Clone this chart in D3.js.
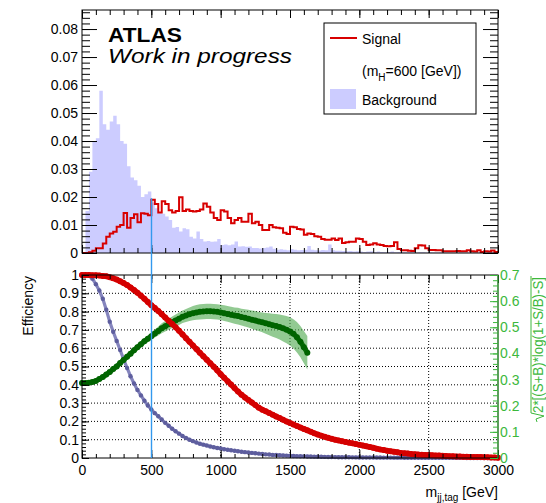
<!DOCTYPE html>
<html><head><meta charset="utf-8">
<script src="https://cdn.jsdelivr.net/npm/d3@7"></script>
<style>
body{margin:0;background:#fff}
svg{display:block}
text{font-family:"Liberation Sans",Arial,Helvetica,sans-serif}
</style>
</head><body>
<svg id="c" width="546" height="503"></svg>
<script>
// ---------------- data ----------------
const binWidth = 25; // GeV
const signalHist = [
 0, 0, 0.0003, 0.0008, 0.0017, 0.0017, 0.0034, 0.0058, 0.0070, 0.0076,
 0.0094, 0.0100, 0.0143, 0.0090, 0.0125, 0.0138, 0.0110, 0.0142, 0.0140, 0.0135,
 0.0190, 0.0175, 0.0145, 0.0185, 0.0175, 0.0153, 0.0145, 0.0150, 0.0199, 0.0150,
 0.0155, 0.0150, 0.0148, 0.0150, 0.0155, 0.0177, 0.0165, 0.0145, 0.0125, 0.0118,
 0.0153, 0.0148, 0.0125, 0.0106, 0.0118, 0.0125, 0.0112, 0.0112, 0.0140, 0.0106,
 0.0112, 0.0100, 0.0082, 0.0082, 0.0100, 0.0092, 0.0090, 0.0088, 0.0072, 0.0068,
 0.0094, 0.0092, 0.0086, 0.0084, 0.0065, 0.0070, 0.0068, 0.0060, 0.0058, 0.0050,
 0.0047, 0.0047, 0.0052, 0.0046, 0.0052, 0.0036, 0.0038, 0.0040, 0.0040, 0.0052,
 0.0050, 0.0040, 0.0029, 0.0030, 0.0035, 0.0030, 0.0029, 0.0025, 0.0024, 0.0025,
 0.0038, 0.0014, 0.0010, 0.0010, 0.0008, 0.0007, 0.0017, 0.0028, 0.0027, 0.0017,
 0.0011, 0.0011, 0.0010, 0.0010, 0.0006, 0.0006, 0.0006, 0.0006, 0.0007, 0.0006,
 0.0006, 0.0010, 0.0006, 0.0005, 0.0010, 0.0004, 0.0006, 0.0005, 0.0009, 0.0004
];
const backgroundHist = [
 0, 0.015, 0.029, 0.040, 0.041, 0.058, 0.046, 0.044, 0.047, 0.049,
 0.046, 0.040, 0.039, 0.031, 0.027, 0.026, 0.024, 0.020, 0.021, 0.022,
 0.018, 0.016, 0.0145, 0.014, 0.013, 0.0118, 0.009, 0.0093, 0.0077, 0.0088,
 0.0085, 0.0058, 0.0052, 0.0077, 0.005, 0.0041, 0.0043, 0.004, 0.0041, 0.005,
 0.0029, 0.003, 0.0028, 0.003, 0.0041, 0.0023, 0.0024, 0.0022, 0.0023, 0.0018,
 0.0018, 0.0016, 0.0018, 0.002, 0.0023, 0.0015, 0.0012, 0.0013, 0.0012, 0.001,
 0.0014, 0.0012, 0.001, 0.0011, 0.0012, 0.0025, 0.0012, 0.001, 0.0009, 0.0011,
 0.001, 0.003, 0.001, 0.0008, 0.0008, 0.0007, 0.0006, 0.0007, 0.0005, 0.0006,
 0.0005, 0.0004, 0.0005, 0.0006, 0.0004, 0.0005, 0.0004, 0.0003, 0.0004, 0.0005,
 0.0003, 0.0004, 0.0003, 0.0003, 0.0004, 0.0003, 0.0002, 0.0003, 0.0003, 0.0002,
 0.0003, 0.0002, 0.0002, 0.0003, 0.0002, 0.0002, 0.0002, 0.0001, 0.0002, 0.0002,
 0.0001, 0.0002, 0.0001, 0.0001, 0.0002, 0.0001, 0.0001, 0.0008, 0.0004, 0.0001
];
const effStep = 25;
const signalEff = [
 1.000,1.000,1.000,0.999,0.998,0.997,0.995,0.993,0.988,0.982,0.975,0.966,0.956,0.945,0.932,0.918,0.903,0.887,0.870,0.852,
 0.835,0.820,0.803,0.786,0.768,0.750,0.732,0.714,0.695,0.675,0.655,0.635,0.615,0.595,0.575,0.556,0.537,0.518,0.499,0.479,
 0.458,0.439,0.420,0.401,0.382,0.363,0.346,0.331,0.317,0.303,0.289,0.275,0.264,0.255,0.246,0.237,0.227,0.218,0.209,0.200,
 0.191,0.183,0.175,0.167,0.159,0.151,0.143,0.135,0.128,0.122,0.116,0.110,0.105,0.100,0.096,0.092,0.088,0.084,0.080,0.076,
 0.072,0.068,0.064,0.060,0.056,0.051,0.047,0.044,0.040,0.037,0.034,0.031,0.028,0.026,0.024,0.022,0.021,0.019,0.018,0.017,
 0.016,0.015,0.014,0.013,0.012,0.011,0.010,0.009,0.008,0.008,0.007,0.007,0.006,0.006,0.005,0.005,0.004,0.004,0.003,0.003,
 0.002
];
const backgroundEff = [
 1.000,0.999,0.995,0.980,0.950,0.915,0.870,0.810,0.745,0.690,0.640,0.590,0.540,0.492,0.447,0.407,0.372,0.342,0.313,0.287,
 0.265,0.245,0.228,0.210,0.192,0.176,0.160,0.146,0.133,0.120,0.109,0.100,0.092,0.085,0.078,0.073,0.068,0.063,0.059,0.055,
 0.052,0.048,0.045,0.042,0.040,0.037,0.034,0.032,0.030,0.028,0.026,0.024,0.022,0.020,0.019,0.017,0.016,0.015,0.014,0.013,
 0.012,0.011,0.010,0.0095,0.009,0.0085,0.008,0.0075,0.007,0.0065,0.006,0.0055,0.005,0.0048,0.0045,0.0042,0.004,0.0037,0.0035,0.0033,
 0.003,0.0029,0.0028,0.0027,0.0026,0.0025,0.0024,0.0023,0.0022,0.0021,0.002,0.0019,0.0018,0.0017,0.0016,0.0015,0.0014,0.0013,0.0012,0.0011,
 0.001,0.0009,0.0009,0.0008,0.0008,0.0007,0.0007,0.0006,0.0006,0.0005,0.0005,0.0004,0.0004,0.0003,0.0003,0.0002,0.0002,0.0001,0.0001,0.0001,
 0
];
const significance = [
 0.287,0.287,0.288,0.291,0.295,0.302,0.310,0.319,0.329,0.340,0.350,0.363,0.375,0.387,0.399,0.412,0.424,0.435,0.447,0.456,
 0.466,0.476,0.486,0.496,0.504,0.512,0.519,0.526,0.533,0.540,0.545,0.550,0.554,0.557,0.559,0.560,0.561,0.561,0.560,0.559,
 0.557,0.554,0.551,0.548,0.545,0.543,0.539,0.536,0.533,0.529,0.526,0.522,0.519,0.515,0.512,0.508,0.505,0.501,0.496,0.491,
 0.484,0.475,0.462,0.445,0.424,0.403
];
const significanceErr = [
 0.003,0.003,0.003,0.003,0.004,0.004,0.005,0.005,0.006,0.006,0.007,0.008,0.008,0.009,0.010,0.010,0.011,0.012,0.012,0.013,
 0.013,0.015,0.017,0.019,0.020,0.021,0.022,0.023,0.024,0.024,0.025,0.026,0.027,0.028,0.029,0.029,0.029,0.029,0.029,0.029,
 0.029,0.030,0.030,0.031,0.031,0.032,0.032,0.033,0.034,0.035,0.036,0.036,0.038,0.040,0.042,0.044,0.046,0.048,0.050,0.052,
 0.054,0.056,0.058,0.060,0.062,0.064
];
const xTicks = [0, 500, 1000, 1500, 2000, 2500, 3000];
const xTickLabels = ["0", "500", "1000", "1500", "2000", "2500", "3000"];
const topYTicks = [0, 0.01, 0.02, 0.03, 0.04, 0.05, 0.06, 0.07, 0.08];
const topYTickLabels = ["0", "0.01", "0.02", "0.03", "0.04", "0.05", "0.06", "0.07", "0.08"];
const effTicks = [0, 0.1, 0.2, 0.3, 0.4, 0.5, 0.6, 0.7, 0.8, 0.9, 1];
const effTickLabels = ["0", "0.1", "0.2", "0.3", "0.4", "0.5", "0.6", "0.7", "0.8", "0.9", "1"];
const sigTicks = [0, 0.1, 0.2, 0.3, 0.4, 0.5, 0.6, 0.7];
const sigTickLabels = ["0", "0.1", "0.2", "0.3", "0.4", "0.5", "0.6", "0.7"];
const cutValue = 500;
const cutLineTop = 0.0196;

// ---------------- layout ----------------
const svg = d3.select("#c");
const X0 = 82, X1 = 498;
const T_TOP = 10, T_BOT = 253, B_TOP = 275, B_BOT = 458;
const x = d3.scaleLinear().domain([0, 3000]).range([X0, X1]);
const yTop = d3.scaleLinear().domain([0, 0.0868]).range([T_BOT, T_TOP]);
const yEff = d3.scaleLinear().domain([0, 1]).range([B_BOT, B_TOP]);
const ySig = d3.scaleLinear().domain([0, 0.7]).range([B_BOT, B_TOP]);

const GREEN_AX = "#3cb83c";

function ticks(axisGen, transform, values, len, labels, pad, color) {
  const a = axisGen.tickValues(values).tickSizeInner(-len).tickSizeOuter(0)
    .tickPadding(pad || 3).tickFormat(labels ? (d, i) => labels[i] : () => "");
  const g = svg.append("g").attr("transform", transform).call(a);
  g.select(".domain").remove();
  g.selectAll("line").attr("stroke", color || "#000").attr("stroke-width", 1);
  g.attr("font-size", 14).attr("font-family", '"Liberation Sans",Arial,sans-serif');
  g.selectAll("text").attr("fill", color || "#000");
  return g;
}
const minor = (a, b, s) => d3.range(Math.round(a / s), Math.round(b / s) + 1).map(k => +(k * s).toFixed(5));

// ---------------- top panel ----------------
svg.append("clipPath").attr("id", "clipTop").append("rect")
  .attr("x", X0).attr("y", T_TOP).attr("width", X1 - X0).attr("height", T_BOT - T_TOP);

const edges = backgroundHist.map((d, i) => i * binWidth);
const bkgPts = backgroundHist.map((d, i) => [edges[i], d]).concat([[3000, backgroundHist[backgroundHist.length - 1]]]);
const sigPts = signalHist.map((d, i) => [edges[i], d]).concat([[3000, signalHist[signalHist.length - 1]]]);

const gTop = svg.append("g").attr("clip-path", "url(#clipTop)");
gTop.append("path")
  .attr("d", d3.area().curve(d3.curveStepAfter).x(d => x(d[0])).y0(yTop(0)).y1(d => yTop(d[1]))(bkgPts))
  .attr("fill", "#ccccff");
gTop.append("path")
  .attr("d", d3.line().curve(d3.curveStepAfter).x(d => x(d[0])).y(d => yTop(d[1]))(sigPts))
  .attr("fill", "none").attr("stroke", "#d80000").attr("stroke-width", 2).attr("stroke-linejoin", "miter");

svg.append("rect").attr("x", X0).attr("y", T_TOP).attr("width", X1 - X0).attr("height", T_BOT - T_TOP)
  .attr("fill", "none").attr("stroke", "#000").attr("stroke-width", 1);

ticks(d3.axisLeft(yTop), `translate(${X0},0)`, topYTicks, 15, topYTickLabels, 4);
ticks(d3.axisLeft(yTop), `translate(${X0},0)`, minor(0, 0.086, 0.002), 8);
ticks(d3.axisRight(yTop), `translate(${X1},0)`, topYTicks, 15);
ticks(d3.axisRight(yTop), `translate(${X1},0)`, minor(0, 0.086, 0.002), 8);
ticks(d3.axisBottom(x), `translate(0,${T_BOT})`, xTicks, 8);
ticks(d3.axisBottom(x), `translate(0,${T_BOT})`, minor(0, 3000, 100), 5);
ticks(d3.axisTop(x), `translate(0,${T_TOP})`, xTicks, 8);
ticks(d3.axisTop(x), `translate(0,${T_TOP})`, minor(0, 3000, 100), 5);

// ATLAS label
svg.append("text").attr("x", 108).attr("y", 42).text("ATLAS")
  .attr("font-family", '"Comic Sans MS","Comic Neue","DejaVu Sans",sans-serif')
  .attr("font-weight", "bold").attr("font-size", 20)
  .attr("textLength", 74).attr("lengthAdjust", "spacingAndGlyphs");
svg.append("text").attr("x", 108).attr("y", 63).text("Work in progress")
  .attr("font-family", '"Comic Sans MS","Comic Neue","DejaVu Sans",sans-serif')
  .attr("font-style", "italic").attr("font-size", 20)
  .attr("textLength", 184).attr("lengthAdjust", "spacingAndGlyphs");

// legend
const lg = svg.append("g");
lg.append("rect").attr("x", 324).attr("y", 23).attr("width", 152).attr("height", 91)
  .attr("fill", "#fff").attr("stroke", "#000").attr("stroke-width", 1);
lg.append("line").attr("x1", 330).attr("x2", 357).attr("y1", 38).attr("y2", 38)
  .attr("stroke", "#d80000").attr("stroke-width", 2);
lg.append("text").attr("x", 362).attr("y", 44).attr("font-size", 14).text("Signal");
const t2 = lg.append("text").attr("x", 362).attr("y", 76).attr("font-size", 14);
t2.append("tspan").text("(m");
t2.append("tspan").attr("dy", 5).attr("font-size", 10).text("H");
t2.append("tspan").attr("dy", -5).text("=600 [GeV])");
lg.append("rect").attr("x", 330).attr("y", 89).attr("width", 26).attr("height", 20).attr("fill", "#ccccff");
lg.append("text").attr("x", 362).attr("y", 105).attr("font-size", 14).text("Background");

// ---------------- bottom panel ----------------
const gGrid = svg.append("g").attr("stroke", "#000").attr("stroke-width", 1).attr("stroke-dasharray", "1,2");
xTicks.filter(v => v > 0 && v < 3000 && v !== cutValue).forEach(v =>
  gGrid.append("line").attr("x1", x(v)).attr("x2", x(v)).attr("y1", B_TOP).attr("y2", B_BOT));
effTicks.filter(v => v > 0 && v < 1).forEach(v =>
  gGrid.append("line").attr("x1", X0).attr("x2", X1).attr("y1", yEff(v)).attr("y2", yEff(v)));

const effX = signalEff.map((d, i) => i * effStep);
const sigX = significance.map((d, i) => i * effStep);

function markerSeries(values, xs, yScale, lineColor, lineW, dotColor, r) {
  const g = svg.append("g");
  g.append("path")
    .attr("d", d3.line().x((d, i) => x(xs[i])).y(d => yScale(d))(values))
    .attr("fill", "none").attr("stroke", lineColor).attr("stroke-width", lineW)
    .attr("stroke-linecap", "round").attr("stroke-linejoin", "round");
  g.selectAll("circle").data(values).join("circle")
    .attr("cx", (d, i) => x(xs[i])).attr("cy", d => yScale(d)).attr("r", r)
    .attr("fill", dotColor);
}

// background efficiency
markerSeries(backgroundEff, effX, yEff, "#8585bd", 3.2, "#5e5e9e", 2.2);

// significance band + markers
svg.append("path")
  .attr("d", d3.area().x((d, i) => x(sigX[i])).y0((d, i) => ySig(d - significanceErr[i]))
    .y1((d, i) => ySig(d + significanceErr[i]))(significance))
  .attr("fill", "#4aa64a").attr("fill-opacity", 0.6);
markerSeries(significance, sigX, ySig, "#0a700a", 5, "#006400", 3);

// signal efficiency
markerSeries(signalEff, effX, yEff, "#e00000", 5.5, "#d40000", 3);

// frame
svg.append("rect").attr("x", X0).attr("y", B_TOP).attr("width", X1 - X0).attr("height", B_BOT - B_TOP)
  .attr("fill", "none").attr("stroke", "#000").attr("stroke-width", 1);

ticks(d3.axisLeft(yEff), `translate(${X0},0)`, effTicks, 7, effTickLabels, 3);
ticks(d3.axisLeft(yEff), `translate(${X0},0)`, minor(0, 1, 0.02), 4);
ticks(d3.axisBottom(x), `translate(0,${B_BOT})`, xTicks, 8, xTickLabels, 7);
ticks(d3.axisBottom(x), `translate(0,${B_BOT})`, minor(0, 3000, 100), 4);
ticks(d3.axisTop(x), `translate(0,${B_TOP})`, xTicks, 8);
ticks(d3.axisTop(x), `translate(0,${B_TOP})`, minor(0, 3000, 100), 4);

// right significance axis
svg.append("line").attr("x1", X1).attr("x2", X1).attr("y1", B_TOP).attr("y2", B_BOT)
  .attr("stroke", GREEN_AX).attr("stroke-width", 1);
ticks(d3.axisRight(ySig), `translate(${X1},0)`, sigTicks, 8, sigTickLabels, 2, GREEN_AX);
ticks(d3.axisRight(ySig), `translate(${X1},0)`, minor(0, 0.7, 0.02), 5, null, 2, GREEN_AX);

// cut line
const cx = Math.round(x(cutValue)) + 0.5;
svg.append("line").attr("x1", cx).attr("x2", cx)
  .attr("y1", yTop(cutLineTop)).attr("y2", B_BOT)
  .attr("stroke", "#3399ee").attr("stroke-width", 1.4);

// axis titles
svg.append("text").attr("transform", `translate(33,276) rotate(-90)`)
  .attr("text-anchor", "end").attr("font-size", 14).text("Efficiency");

const xt = svg.append("text").attr("x", X1).attr("y", 497).attr("text-anchor", "end").attr("font-size", 14);
xt.append("tspan").text("m");
xt.append("tspan").attr("dy", 4).attr("font-size", 10).text("jj,tag");
xt.append("tspan").attr("dy", -4).text(" [GeV]");

const rt = svg.append("g").attr("transform", "translate(543,413) rotate(-90)");
rt.append("text").attr("x", 0).attr("y", 0).attr("font-size", 14).attr("fill", GREEN_AX)
  .attr("textLength", 136).attr("lengthAdjust", "spacingAndGlyphs")
  .text("2*[(S+B)*log(1+S/B)-S]");
rt.append("path").attr("d", "M-9,-6 L-6,-7 L-3,1 L0,-12 L137,-12")
  .attr("fill", "none").attr("stroke", GREEN_AX).attr("stroke-width", 1);
</script>
</body></html>
